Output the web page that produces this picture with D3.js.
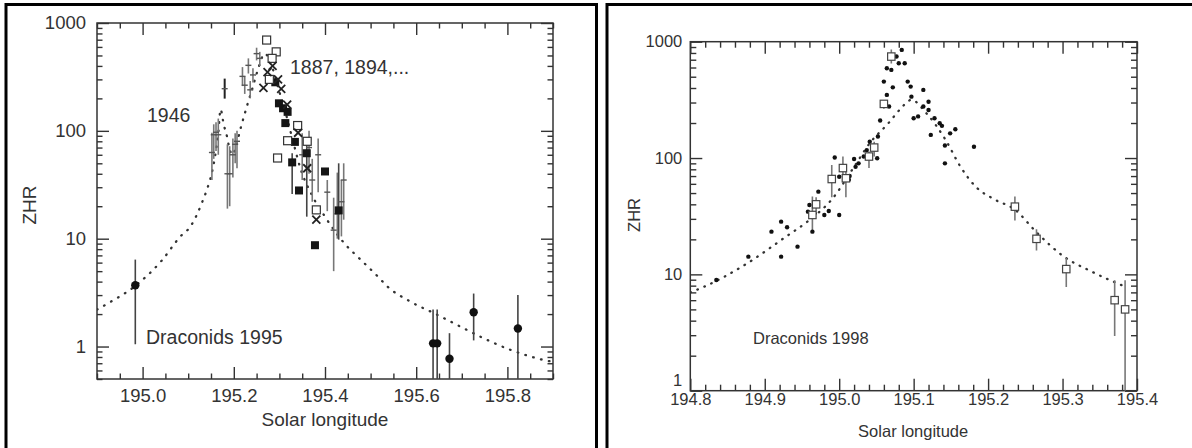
<!DOCTYPE html>
<html>
<head>
<meta charset="utf-8">
<script src="https://cdn.jsdelivr.net/npm/d3@7"></script>
<style>
body { margin: 0; background: #fff; }
svg text { font-family: "Liberation Sans", Arial, Helvetica, sans-serif; fill: #333; }
</style>
</head>
<body>
<svg id="chart" width="1192" height="448"></svg>
<script>
// ---- left panel: Draconids 1995 ----
// [solar longitude, ZHR, low, high]
const circles1995 = [
    [194.984, 3.7, 1.05, 6.4],
    [195.637, 1.07, 0.5, 2.2],
    [195.646, 1.07, 0.5, 2.2],
    [195.673, 0.77, 0.5, 1.33],
    [195.726, 2.08, 1.14, 3.1],
    [195.823, 1.47, 0.5, 3.0]
];
const plus1946 = [
    [195.152, 63, 35, 96],
    [195.156, 92, 55, 115],
    [195.161, 97, 65, 120],
    [195.166, 92, 60, 130],
    [195.186, 40, 19, 75],
    [195.191, 40, 20, 72],
    [195.198, 60, 37, 85],
    [195.203, 75, 50, 95],
    [195.207, 80, 45, 100],
    [195.219, 320, 260, 390],
    [195.224, 265, 220, 320],
    [195.232, 405, 340, 470],
    [195.236, 240, 200, 290],
    [195.242, 330, 280, 380],
    [195.250, 520, 450, 590],
    [195.257, 470, 400, 540]
];
const bar1946 = [[195.180, 246, 199, 305]];
const plusLate = [
    [195.350, 60, 35, 95],
    [195.365, 70, 40, 100],
    [195.372, 35, 22, 55],
    [195.385, 60, 27, 85],
    [195.405, 27, 18, 35],
    [195.419, 12, 5, 24],
    [195.427, 17, 10, 41],
    [195.436, 22, 10.5, 35],
    [195.441, 35, 15, 50]
];
const openSq1995 = [
    [195.272, 695], [195.293, 540], [195.284, 470], [195.278, 300],
    [195.340, 112], [195.318, 81], [195.361, 80], [195.296, 56], [195.381, 18.5]
];
const filledSq1995 = [
    [195.291, 282, null, null], [195.299, 180, null, null], [195.308, 162, null, null],
    [195.318, 150, null, null], [195.313, 118, null, null], [195.334, 79, null, null],
    [195.360, 62, 16, 83], [195.328, 51, 26, 62], [195.343, 28, null, null],
    [195.400, 42, null, null], [195.430, 18.3, 9.8, 50], [195.378, 8.7, null, null]
];
const crosses1995 = [
    [195.265, 250], [195.274, 350], [195.285, 400], [195.297, 300], [195.304, 245],
    [195.317, 175], [195.341, 96], [195.361, 45], [195.381, 15]
];
const model1995 = [
    [194.90, 2.2], [194.93, 2.6], [194.982, 3.6], [195.041, 6.2], [195.083, 10.5],
    [195.105, 13], [195.119, 16.7], [195.13, 21.5], [195.141, 28.5], [195.152, 41],
    [195.16, 62], [195.166, 95], [195.171, 158], [195.178, 114], [195.185, 89],
    [195.19, 70], [195.197, 60], [195.205, 72], [195.214, 102], [195.222, 135],
    [195.231, 182], [195.24, 242], [195.251, 348], [195.268, 520], [195.285, 380],
    [195.30, 230], [195.315, 140], [195.33, 80], [195.346, 45], [195.37, 26],
    [195.40, 16], [195.42, 12], [195.445, 8.8], [195.47, 6.9], [195.515, 4.5],
    [195.537, 3.6], [195.588, 2.6], [195.639, 2.04], [195.697, 1.53], [195.756, 1.15],
    [195.807, 0.93], [195.88, 0.75], [195.90, 0.72]
];
const leftXTicks = [195.0, 195.2, 195.4, 195.6, 195.8];
const leftYTicks = [1, 10, 100, 1000];

// ---- right panel: Draconids 1998 ----
const dots1998 = [
    [194.835, 8.95], [194.878, 14.2], [194.909, 23.3], [194.922, 28.4], [194.922, 14.2],
    [194.930, 25.4], [194.944, 17.3], [194.958, 34.6], [194.960, 39.5], [194.964, 23.3],
    [194.967, 33.5], [194.972, 51.4], [194.980, 32.4], [194.986, 35], [194.994, 101],
    [195.000, 32.4], [195.000, 69], [195.013, 65], [195.014, 70], [195.020, 98],
    [195.022, 84], [195.026, 90], [195.033, 103], [195.037, 117], [195.041, 138],
    [195.051, 99.5], [195.052, 153], [195.055, 210], [195.060, 454], [195.064, 349],
    [195.064, 592], [195.067, 277], [195.070, 572], [195.072, 405], [195.077, 745],
    [195.080, 653], [195.084, 850], [195.088, 653], [195.092, 454], [195.096, 411],
    [195.097, 337], [195.100, 220], [195.106, 228], [195.113, 385], [195.113, 277],
    [195.120, 305], [195.120, 259], [195.123, 158], [195.128, 220], [195.135, 199],
    [195.138, 189], [195.142, 128], [195.142, 90], [195.149, 163], [195.156, 177],
    [195.181, 125]
];
const squares1998 = [
    [194.964, 32.4, 23.3, 46.6], [194.969, 40, 35, 46], [194.990, 66, 46, 87],
    [195.005, 82, 65, 103], [195.009, 67, 46, 79], [195.040, 103, 82, 114],
    [195.047, 123, 103, 138], [195.060, 292, 265, 310], [195.070, 745, 650, 855],
    [195.236, 38.2, 29, 46.6], [195.265, 20.2, 16, 24.4], [195.305, 11.1, 7.8, 13.8],
    [195.370, 6.0, 2.95, 8.9], [195.384, 5.0, 1.0, 8.9]
];
const model1998 = [
    [194.80, 7.0], [194.818, 7.8], [194.877, 12.5], [194.928, 21], [194.959, 29],
    [194.99, 44], [195.02, 84], [195.041, 134], [195.066, 199], [195.081, 259],
    [195.097, 316], [195.117, 243], [195.143, 143], [195.163, 84], [195.183, 57],
    [195.209, 44], [195.236, 36], [195.265, 23], [195.30, 14.5], [195.34, 10.5],
    [195.385, 7.8]
];
const rightXTicks = [194.8, 194.9, 195.0, 195.1, 195.2, 195.3, 195.4];
const rightYTicks = [1, 10, 100, 1000];

const svg = d3.select('#chart');

// panel frames
svg.append('path')
    .attr('d', 'M6,448V4.5H596.5V448')
    .attr('fill', 'none').attr('stroke', '#000').attr('stroke-width', 3);
svg.append('path')
    .attr('d', 'M607,448V4.5H1192')
    .attr('fill', 'none').attr('stroke', '#000').attr('stroke-width', 3);

function logMinor(domain) {
    const out = [];
    for (let e = Math.floor(Math.log10(domain[0])); e <= Math.ceil(Math.log10(domain[1])); e++) {
        for (let k = 1; k <= 9; k++) {
            const v = k * Math.pow(10, e);
            if (v >= domain[0] - 1e-9 && v <= domain[1] + 1e-9 && k !== 1) out.push(v);
        }
    }
    return out;
}

function drawPanel(cfg) {
    const g = svg.append('g');
    const x = d3.scaleLinear().domain(cfg.xDomain).range([cfg.left, cfg.right]);
    const y = d3.scaleLog().domain(cfg.yDomain).range([cfg.bottom, cfg.top]);
    const w = cfg.right - cfg.left, h = cfg.bottom - cfg.top;

    const clipId = 'clip' + cfg.id;
    svg.append('clipPath').attr('id', clipId)
        .append('rect').attr('x', cfg.left).attr('y', cfg.top).attr('width', w).attr('height', h);

    const styleAxis = (sel, fs) => {
        sel.select('.domain').remove();
        sel.selectAll('line').attr('stroke', '#333').attr('stroke-width', 1.4);
        sel.attr('font-size', fs).attr('font-family', '"Liberation Sans", Arial, sans-serif');
        sel.selectAll('text').attr('fill', '#333');
    };

    // minor / major tick sets
    const xMinor = d3.range(cfg.xDomain[0], cfg.xDomain[1] + 1e-9, cfg.xMinorStep)
        .filter(v => !cfg.xMajor.some(m => Math.abs(m - v) < 1e-6));
    const yMinor = logMinor(cfg.yDomain);

    const axes = [
        [d3.axisBottom(x), `translate(0,${cfg.bottom})`],
        [d3.axisTop(x), `translate(0,${cfg.top})`]
    ];
    axes.forEach(([ax, tr], i) => {
        g.append('g').attr('transform', tr)
            .call(ax.tickValues(xMinor).tickSize(-cfg.minorLen).tickFormat(''))
            .call(s => styleAxis(s, cfg.fontSize));
        g.append('g').attr('transform', tr)
            .call(ax.tickValues(cfg.xMajor).tickSize(-cfg.majorLen)
                .tickPadding(cfg.xPad).tickFormat(i === 0 ? d3.format('.1f') : ''))
            .call(s => styleAxis(s, cfg.fontSize));
    });
    const yAxes = [
        [d3.axisLeft(y), `translate(${cfg.left},0)`],
        [d3.axisRight(y), `translate(${cfg.right},0)`]
    ];
    yAxes.forEach(([ax, tr], i) => {
        g.append('g').attr('transform', tr)
            .call(ax.tickValues(yMinor).tickSize(-cfg.minorLen).tickFormat(''))
            .call(s => styleAxis(s, cfg.fontSize));
        const maj = g.append('g').attr('transform', tr)
            .call(ax.tickValues(cfg.yMajor).tickSize(-cfg.majorLen)
                .tickPadding(cfg.yPad).tickFormat(i === 0 ? d3.format('d') : ''))
            .call(s => styleAxis(s, cfg.fontSize));
        // lift the lowest label a little when it sits on the x labels
        if (i === 0 && cfg.liftBottom) {
            maj.selectAll('.tick text').filter(d => d === cfg.yDomain[0])
                .attr('y', -cfg.liftBottom);
        }
    });

    g.append('rect')
        .attr('x', cfg.left).attr('y', cfg.top).attr('width', w).attr('height', h)
        .attr('fill', 'none').attr('stroke', '#333').attr('stroke-width', 1.5);

    // axis titles
    g.append('text')
        .attr('x', (cfg.left + cfg.right) / 2 + cfg.xTitleDx).attr('y', cfg.xTitleY)
        .attr('text-anchor', 'middle').attr('font-size', cfg.titleSize)
        .text('Solar longitude');
    g.append('text')
        .attr('transform', `translate(${cfg.yTitleX},${cfg.yTitleY}) rotate(-90)`)
        .attr('text-anchor', 'middle').attr('font-size', cfg.titleSize)
        .text('ZHR');

    const plot = g.append('g').attr('clip-path', `url(#${clipId})`);
    return { x, y, plot, g };
}

function errorBars(p, data, color, width) {
    p.plot.selectAll(null).data(data.filter(d => d[2] != null)).enter()
        .append('line')
        .attr('x1', d => p.x(d[0])).attr('x2', d => p.x(d[0]))
        .attr('y1', d => p.y(Math.max(d[2], 0.01))).attr('y2', d => p.y(d[3]))
        .attr('stroke', color).attr('stroke-width', width);
}

function dotted(p, data, dash) {
    p.plot.append('path')
        .datum(data)
        .attr('d', d3.line().x(d => p.x(d[0])).y(d => p.y(d[1])).curve(d3.curveMonotoneX))
        .attr('fill', 'none').attr('stroke', '#333').attr('stroke-width', 2.3)
        .attr('stroke-linecap', 'round').attr('stroke-dasharray', dash);
}

// ---------- left panel ----------
const L = drawPanel({
    id: 'L', left: 97, right: 553, top: 23, bottom: 379,
    xDomain: [194.9, 195.9], yDomain: [0.5, 1000],
    xMajor: leftXTicks, yMajor: leftYTicks, xMinorStep: 0.05,
    majorLen: 12, minorLen: 5.5, fontSize: 18.5, xPad: 10, yPad: 11,
    titleSize: 19, xTitleY: 426, xTitleDx: 0, yTitleX: 36, yTitleY: 205
});

dotted(L, model1995, '0.6,7.5');
errorBars(L, plus1946, '#777', 1.6);
errorBars(L, plusLate, '#777', 1.6);
errorBars(L, bar1946, '#222', 2);
errorBars(L, circles1995, '#444', 1.6);
errorBars(L, filledSq1995, '#444', 1.6);

L.plot.selectAll(null).data(plus1946.concat(plusLate, bar1946)).enter()
    .append('line')
    .attr('x1', d => L.x(d[0]) - 3).attr('x2', d => L.x(d[0]) + 3)
    .attr('y1', d => L.y(d[1])).attr('y2', d => L.y(d[1]))
    .attr('stroke', '#555').attr('stroke-width', 1.4);

L.plot.selectAll(null).data(circles1995).enter()
    .append('circle')
    .attr('cx', d => L.x(d[0])).attr('cy', d => L.y(d[1])).attr('r', 4.2)
    .attr('fill', '#111');

L.plot.selectAll(null).data(filledSq1995).enter()
    .append('rect')
    .attr('x', d => L.x(d[0]) - 4).attr('y', d => L.y(d[1]) - 4)
    .attr('width', 8).attr('height', 8).attr('fill', '#151515');

L.plot.selectAll(null).data(openSq1995).enter()
    .append('rect')
    .attr('x', d => L.x(d[0]) - 4).attr('y', d => L.y(d[1]) - 4)
    .attr('width', 8).attr('height', 8)
    .attr('fill', '#fff').attr('stroke', '#333').attr('stroke-width', 1.2);

const crossG = L.plot.selectAll(null).data(crosses1995).enter().append('g')
    .attr('transform', d => `translate(${L.x(d[0])},${L.y(d[1])})`);
crossG.append('path').attr('d', 'M-4,-4L4,4M-4,4L4,-4')
    .attr('stroke', '#222').attr('stroke-width', 1.8);

L.g.append('text').attr('x', 147).attr('y', 122).attr('font-size', 19.5).text('1946');
L.g.append('text').attr('x', 290).attr('y', 74).attr('font-size', 19.5).text('1887, 1894,...');
L.g.append('text').attr('x', 146).attr('y', 344).attr('font-size', 19.5).text('Draconids 1995');

// ---------- right panel ----------
const R = drawPanel({
    id: 'R', left: 690.3, right: 1137, top: 41.7, bottom: 390.7,
    xDomain: [194.8, 195.4], yDomain: [1, 1000],
    xMajor: rightXTicks, yMajor: rightYTicks, xMinorStep: 0.02,
    majorLen: 12, minorLen: 6, fontSize: 16.5, xPad: 2.5, yPad: 8,
    titleSize: 16.5, xTitleY: 437, xTitleDx: -0.5, yTitleX: 640, yTitleY: 215,
    liftBottom: 10
});

dotted(R, model1998, '0.6,7');
errorBars(R, squares1998, '#777', 1.6);

R.plot.selectAll(null).data(dots1998).enter()
    .append('circle')
    .attr('cx', d => R.x(d[0])).attr('cy', d => R.y(d[1])).attr('r', 2.2)
    .attr('fill', '#111');

R.plot.selectAll(null).data(squares1998).enter()
    .append('rect')
    .attr('x', d => R.x(d[0]) - 3.7).attr('y', d => R.y(d[1]) - 3.7)
    .attr('width', 7.4).attr('height', 7.4)
    .attr('fill', '#fff').attr('stroke', '#444').attr('stroke-width', 1.2);

R.g.append('text').attr('x', 753).attr('y', 344).attr('font-size', 16.5).text('Draconids 1998');
</script>
</body>
</html>
